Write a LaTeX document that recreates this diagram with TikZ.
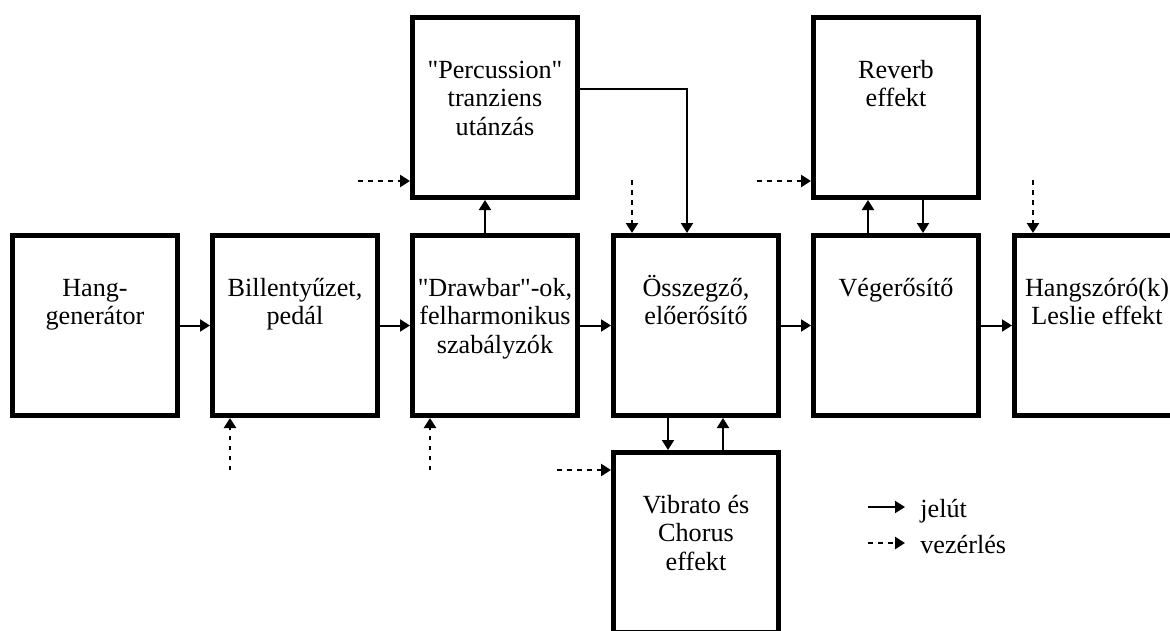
\documentclass[tikz,border=0pt]{standalone}
\usepackage{fontspec}
\setmainfont{Liberation Serif}
\usepackage{tikz}
\usetikzlibrary{arrows.meta, positioning}

\begin{document}
\begin{tikzpicture}[
  blokk/.style={draw, line width=0.1cm, minimum width=3.3cm, minimum height=3.6cm,
    inner sep=0pt, align=center, text height=1.21cm, text depth=2.39cm,
    font=\fontsize{14.9pt}{16.2pt}\selectfont},
  % the text box sits on its last line: move it down by 0.57cm a line
  ketsor/.style={text height=1.78cm, text depth=1.82cm},
  haromsor/.style={text height=2.35cm, text depth=1.25cm},
  jel/.style={line width=0.04cm, -{Triangle[length=0.2cm, width=0.24cm]}},
  vez/.style={jel, line width=0.05cm, dash pattern=on 0.09cm off 0.11cm},
  felirat/.style={inner sep=0pt, font=\fontsize{14.9pt}{16.2pt}\selectfont}
]
  % page 23.4 x 12.6 cm, boxes 4.0 cm apart
  \useasboundingbox (0,0) rectangle (23.4,12.6);
  \clip (0,0) rectangle (23.4,12.6);
  % main row
  \node[blokk, ketsor] (hang) at (1.90,6.09) {Hang-\\generátor};
  \node[blokk, ketsor] (bill) at (5.90,6.09) {Billentyűzet,\\pedál};
  \node[blokk, haromsor] (drawbar) at (9.90,6.09) {\textquotedbl Drawbar\textquotedbl-ok,\\felharmonikus\\szabályzók};
  \node[blokk, ketsor] (ossz) at (13.92,6.09) {Összegző,\\előerősítő};
  \node[blokk] (veg) at (17.92,6.09) {Végerősítő};
  \node[blokk, ketsor] (hangszoro) at (21.94,6.09) {Hangszóró(k)\\Leslie effekt};
  % upper and lower boxes
  \node[blokk, haromsor] (perc) at (9.90,10.45) {\textquotedbl Percussion\textquotedbl\\tranziens\\utánzás};
  \node[blokk, ketsor] (reverb) at (17.92,10.45) {Reverb\\effekt};
  \node[blokk, haromsor] (vibr) at (13.92,1.75) {Vibrato és\\Chorus\\effekt};

  % signal path
  \draw[jel] (hang) -- (bill);
  \draw[jel] (bill) -- (drawbar);
  \draw[jel] (drawbar) -- (ossz);
  \draw[jel] (ossz) -- (veg);
  \draw[jel] (veg) -- (hangszoro);
  \draw[jel] ([xshift=-0.2cm]drawbar.north) -- ([xshift=-0.2cm]perc.south);
  \draw[jel] ([yshift=0.37cm]perc.east) -| ([xshift=-0.18cm]ossz.north);
  \draw[jel] ([xshift=-0.56cm]ossz.south) -- ([xshift=-0.56cm]vibr.north);
  \draw[jel] ([xshift=0.54cm]vibr.north) -- ([xshift=0.54cm]ossz.south);
  \draw[jel] ([xshift=-0.56cm]veg.north) -- ([xshift=-0.56cm]reverb.south);
  \draw[jel] ([xshift=0.54cm]reverb.south) -- ([xshift=0.54cm]veg.north);

  % control inputs
  \coordinate (vbill) at ([xshift=-1.3cm,yshift=-1.04cm]bill.south);
  \coordinate (vdraw) at ([xshift=-1.3cm,yshift=-1.04cm]drawbar.south);
  \coordinate (vperc) at ([xshift=-1.04cm,yshift=-1.47cm]perc.west);
  \coordinate (vossz) at ([xshift=-1.28cm,yshift=1.06cm]ossz.north);
  \coordinate (vvibr) at ([xshift=-1.08cm,yshift=1.45cm]vibr.west);
  \coordinate (vrev) at ([xshift=-1.08cm,yshift=-1.47cm]reverb.west);
  \coordinate (vhsz) at ([xshift=-1.28cm,yshift=1.06cm]hangszoro.north);
  \draw[vez] (vbill) -- (vbill |- bill.south);
  \draw[vez] (vdraw) -- (vdraw |- drawbar.south);
  \draw[vez] (vperc) -- (vperc -| perc.west);
  \draw[vez] (vossz) -- (vossz |- ossz.north);
  \draw[vez] (vvibr) -- (vvibr -| vibr.west);
  \draw[vez] (vrev) -- (vrev -| reverb.west);
  \draw[vez] (vhsz) -- (vhsz |- hangszoro.north);

  % legend
  \node[felirat, anchor=base west] (jelut) at (18.40,2.26) {jelút};
  \node[felirat, anchor=base west] (vezerles) at (18.40,1.54) {vezérlés};
  \draw[jel] ([xshift=-1.04cm,yshift=0.2cm]jelut.base west) -- ([xshift=-0.3cm,yshift=0.2cm]jelut.base west);
  \draw[vez] ([xshift=-1.04cm,yshift=0.2cm]vezerles.base west) -- ([xshift=-0.3cm,yshift=0.2cm]vezerles.base west);
\end{tikzpicture}
\end{document}
